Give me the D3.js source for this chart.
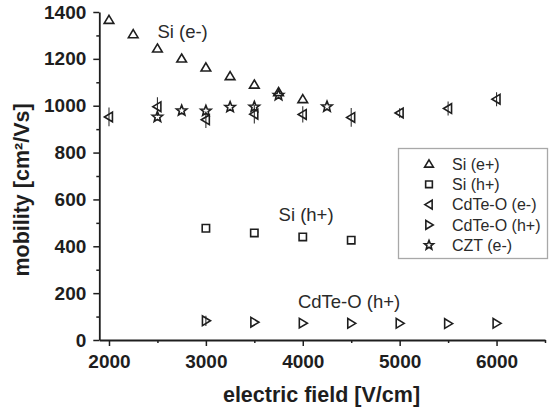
<!DOCTYPE html>
<html>
<head>
<meta charset="utf-8">
<script src="https://cdn.jsdelivr.net/npm/d3@7"></script>
<style>
  html, body { margin: 0; padding: 0; background: #ffffff; }
  svg { display: block; font-family: "Liberation Sans", Arial, sans-serif; }
</style>
</head>
<body>
<svg id="chart" width="549" height="415"></svg>
<script>
// Carrier mobility vs. applied electric field
const xTicks = [2000, 3000, 4000, 5000, 6000];
const yTicks = [0, 200, 400, 600, 800, 1000, 1200, 1400];

// [field V/cm, mobility cm²/Vs, error]
const siElectrons = [[2000,1366],[2250,1305],[2500,1244],[2750,1201],[3000,1163],[3250,1126],[3500,1090],[3750,1058],[4000,1028]];
const siHoles = [[3000,477],[3500,457],[4000,440],[4500,426]];
const cdteElectrons = [[2000,952,40],[2500,996,40],[3000,940,35],[3500,964,40],[4000,963,35],[4500,950,40],[5000,969,20],[5500,988,30],[6000,1028,30]];
const cdteHoles = [[3000,82,22],[3500,76,0],[4000,72,0],[4500,71,0],[5000,71,0],[5500,70,0],[6000,71,0]];
const cztElectrons = [[2500,952],[2750,979],[3000,978],[3250,994],[3500,995],[3750,1045],[4250,996]];

const legendNames = ["Si (e+)", "Si (h+)", "CdTe-O (e-)", "CdTe-O (h+)", "CZT (e-)"];
const legendShapes = ["up", "square", "left", "right", "star"];

// in-plot annotations anchored in data coordinates
const notes = [
  { text: "Si (e-)", field: 2500, mob: 1287 },
  { text: "Si (h+)", field: 3750, mob: 508 },
  { text: "CdTe-O (h+)", field: 3950, mob: 137 }
];

const svg = d3.select("#chart");
const ink = "#1e1e1e";

const x = d3.scaleLinear().domain([1900, 6500]).range([99.3, 545]);
const y = d3.scaleLinear().domain([0, 1400]).range([340, 12]);

// marker path builders
function shapePath(kind, r) {
  switch (kind) {
    case "up": return `M0,${-r}L${r*1.05},${r*0.75}L${-r*1.05},${r*0.75}Z`;
    case "left": return `M${-r},0L${r*0.75},${-r*1.05}L${r*0.75},${r*1.05}Z`;
    case "right": return `M${r},0L${-r*0.75},${-r*1.05}L${-r*0.75},${r*1.05}Z`;
    case "square": return `M${-r*0.8},${-r*0.8}H${r*0.8}V${r*0.8}H${-r*0.8}Z`;
    case "star": {
      const pts = [];
      for (let i = 0; i < 10; i++) {
        const a = -Math.PI / 2 + i * Math.PI / 5;
        const rr = i % 2 === 0 ? r * 1.15 : r * 0.5;
        pts.push([rr * Math.cos(a), rr * Math.sin(a)]);
      }
      return "M" + pts.map(p => p[0].toFixed(2) + "," + p[1].toFixed(2)).join("L") + "Z";
    }
  }
}

// axes
const xMinor = d3.range(2500, 6501, 1000);
const yMinor = d3.range(100, 1400, 200);

const gx = svg.append("g").attr("transform", `translate(0,${y(0)})`);
gx.call(d3.axisBottom(x).tickValues(xMinor).tickSize(3).tickFormat("").tickSizeOuter(0));
gx.call(g => g.select(".domain").remove());
const gxMajor = svg.append("g").attr("transform", `translate(0,${y(0)})`)
  .call(d3.axisBottom(x).tickValues(xTicks).tickSize(6).tickPadding(9).tickSizeOuter(0).tickFormat(d3.format("d")));

const gy = svg.append("g").attr("transform", `translate(${x(1900)},0)`);
gy.call(d3.axisLeft(y).tickValues(yMinor).tickSize(3).tickFormat("").tickSizeOuter(0));
gy.call(g => g.select(".domain").remove());
const gyMajor = svg.append("g").attr("transform", `translate(${x(1900)},0)`)
  .call(d3.axisLeft(y).tickValues(yTicks).tickSize(6).tickPadding(7).tickSizeOuter(0).tickFormat(d3.format("d")));

svg.selectAll(".domain").attr("stroke", ink).attr("stroke-width", 1.8);
svg.selectAll(".tick line").attr("stroke", ink).attr("stroke-width", 1.5);
svg.selectAll(".tick text")
  .attr("fill", ink)
  .style("font-family", "'Liberation Sans', Arial, sans-serif")
  .style("font-size", "19px")
  .style("font-weight", "bold");

// axis titles
svg.append("text")
  .attr("x", 321.5).attr("y", 402)
  .attr("text-anchor", "middle")
  .attr("fill", ink)
  .style("font-size", "21.5px").style("font-weight", "bold")
  .text("electric field [V/cm]");

svg.append("text")
  .attr("transform", "translate(29,190) rotate(-90)")
  .attr("text-anchor", "middle")
  .attr("fill", ink)
  .style("font-size", "21.5px").style("font-weight", "bold")
  .text("mobility [cm²/Vs]");

// error bars
function errorBars(data) {
  svg.append("g").selectAll("line")
    .data(data.filter(d => d[2] > 0))
    .join("line")
    .attr("x1", d => x(d[0])).attr("x2", d => x(d[0]))
    .attr("y1", d => y(d[1] - d[2])).attr("y2", d => y(d[1] + d[2]))
    .attr("stroke", "#333").attr("stroke-width", 1.1);
}
errorBars(cdteElectrons);
errorBars(cdteHoles);

// markers
function markers(data, kind, r) {
  svg.append("g").selectAll("path")
    .data(data)
    .join("path")
    .attr("transform", d => `translate(${x(d[0])},${y(d[1])})`)
    .attr("d", shapePath(kind, r))
    .attr("fill", "none")
    .attr("stroke", ink)
    .attr("stroke-width", 1.6)
    .attr("stroke-linejoin", "miter");
}
markers(siElectrons, "up", 4.6);
markers(siHoles, "square", 4.6);
markers(cdteElectrons, "left", 4.6);
markers(cdteHoles, "right", 4.6);
markers(cztElectrons, "star", 4.8);

// annotations
svg.append("g").selectAll("text")
  .data(notes)
  .join("text")
  .attr("x", d => x(d.field)).attr("y", d => y(d.mob))
  .attr("fill", "#2a2a2a")
  .style("font-size", "18.5px")
  .text(d => d.text);

// legend
const legend = svg.append("g");
legend.append("rect")
  .attr("x", 398.5).attr("y", 148.5).attr("width", 149).attr("height", 110)
  .attr("fill", "#ffffff").attr("stroke", "#a8a8a8").attr("stroke-width", 1.3);
const rows = legend.selectAll("g.row")
  .data(legendNames)
  .join("g")
  .attr("class", "row")
  .attr("transform", (d, i) => `translate(0,${164 + i * 20.3})`);
rows.append("path")
  .attr("transform", "translate(429,0)")
  .attr("d", (d, i) => shapePath(legendShapes[i], 4.2))
  .attr("fill", "none").attr("stroke", ink).attr("stroke-width", 1.6);
rows.append("text")
  .attr("x", 452).attr("dy", "0.36em")
  .attr("fill", "#2a2a2a")
  .style("font-size", "16px")
  .text(d => d);
</script>
</body>
</html>
